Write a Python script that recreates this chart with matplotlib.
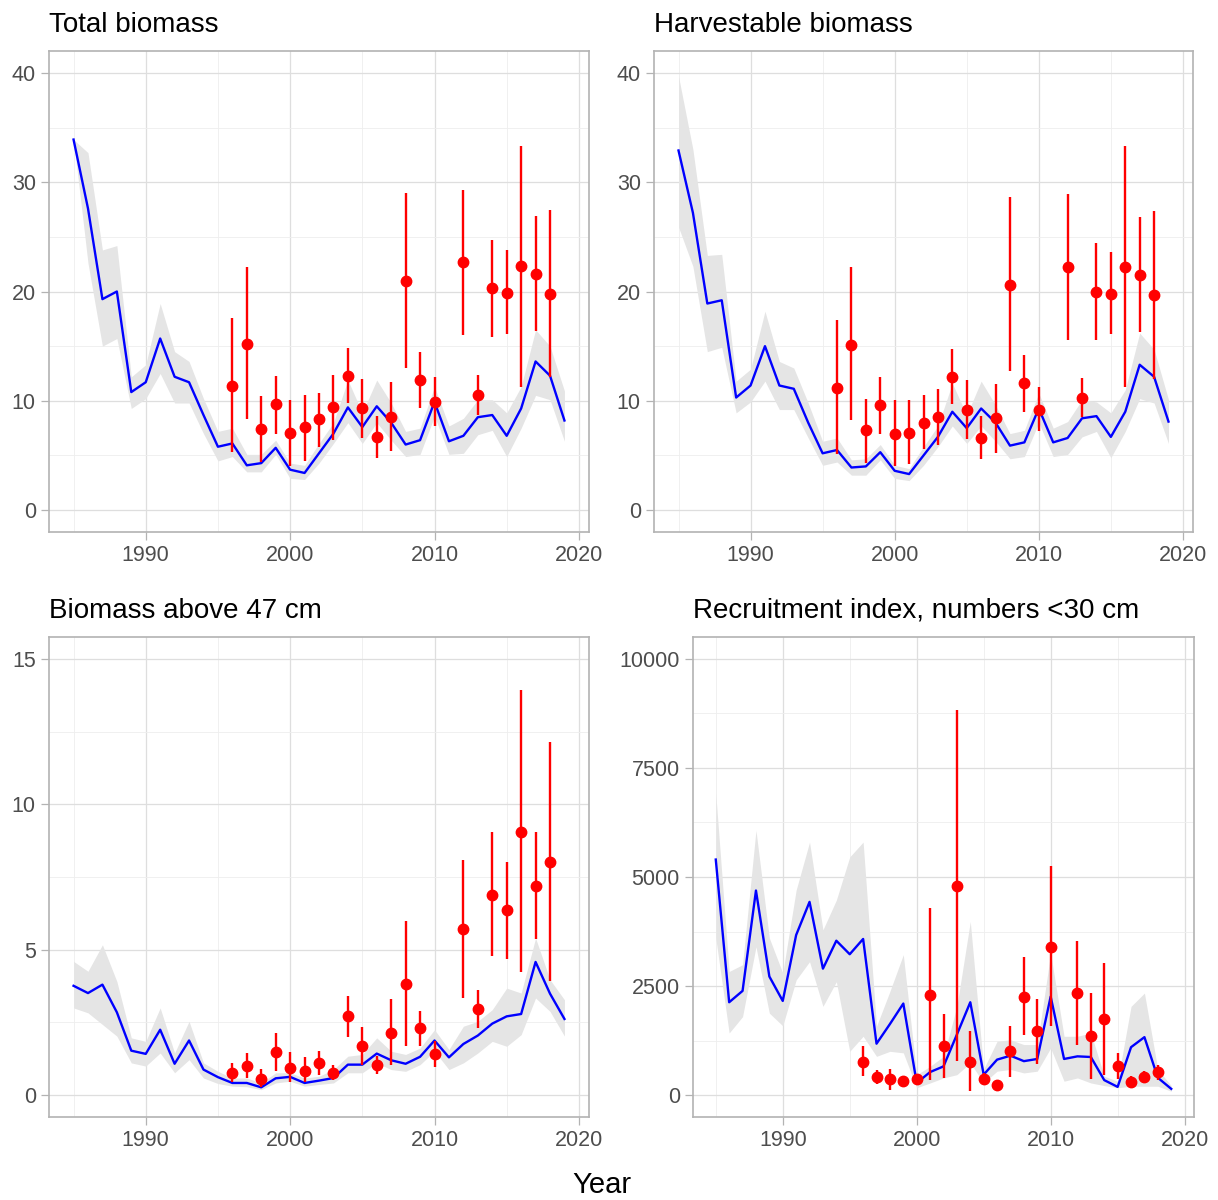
import numpy as np
import matplotlib.pyplot as plt
from matplotlib.ticker import MultipleLocator

plt.rcParams['font.family'] = ['Liberation Sans', 'DejaVu Sans']

# model years and survey years
years = list(range(1985, 2020))
svy_years = [1996, 1997, 1998, 1999, 2000, 2001, 2002, 2003, 2004, 2005, 2006,
             2007, 2008, 2009, 2010, 2012, 2013, 2014, 2015, 2016, 2017, 2018]

# --- Total biomass
tot_est = [33.9, 27.6, 19.3, 20.0, 10.8, 11.7, 15.7, 12.2, 11.7, 8.7, 5.8, 6.1, 4.1, 4.3,
           5.7, 3.7, 3.4, 5.2, 7.0, 9.4, 7.6, 9.5, 8.0, 6.0, 6.4, 9.9, 6.3, 6.8, 8.5, 8.7,
           6.8, 9.3, 13.6, 12.3, 8.2]
tot_lo = [33.9, 22.6, 15.0, 15.7, 9.3, 10.2, 12.5, 9.8, 9.8, 7.0, 4.5, 4.9, 3.5, 3.5,
          5.1, 2.9, 2.8, 4.3, 6.1, 8.0, 6.1, 8.0, 6.4, 4.9, 5.1, 8.6, 5.1, 5.2, 6.9, 7.3,
          4.9, 7.5, 10.5, 10.1, 6.3]
tot_hi = [33.9, 32.7, 23.8, 24.2, 12.2, 13.3, 18.9, 14.5, 13.6, 10.2, 7.2, 7.5, 5.1, 5.1,
          6.4, 4.3, 4.1, 6.1, 8.0, 11.9, 8.9, 11.9, 9.8, 7.2, 7.5, 11.3, 7.7, 8.4, 10.1, 10.1,
          8.9, 11.3, 16.5, 15.0, 10.9]
tot_svy = [11.4, 15.2, 7.4, 9.7, 7.1, 7.6, 8.3, 9.4, 12.3, 9.3, 6.7, 8.5, 21.0, 11.9,
           9.9, 22.7, 10.5, 20.3, 19.9, 22.3, 21.6, 19.8]
tot_svy_lo = [5.3, 8.3, 4.4, 7.0, 4.0, 4.5, 5.8, 6.4, 9.8, 6.6, 4.8, 5.4, 13.0, 9.3,
              7.7, 16.0, 8.7, 15.8, 16.1, 11.3, 16.4, 12.2]
tot_svy_hi = [17.6, 22.2, 10.4, 12.3, 10.1, 10.5, 10.7, 12.4, 14.8, 12.0, 8.6, 11.7, 29.0, 14.5,
              12.2, 29.3, 12.4, 24.7, 23.8, 33.3, 26.9, 27.5]

# --- Harvestable biomass
hrv_est = [32.9, 27.2, 18.9, 19.2, 10.3, 11.4, 15.0, 11.4, 11.1, 8.0, 5.2, 5.5, 3.9, 4.0,
           5.3, 3.6, 3.3, 5.0, 6.7, 9.0, 7.5, 9.3, 8.0, 5.9, 6.2, 9.3, 6.2, 6.6, 8.4, 8.6,
           6.7, 9.0, 13.3, 12.2, 8.1]
hrv_lo = [25.9, 22.3, 14.5, 14.9, 8.9, 9.9, 11.8, 9.2, 9.2, 6.6, 4.1, 4.4, 3.2, 3.2,
          4.6, 2.9, 2.7, 4.1, 5.8, 7.7, 6.1, 7.7, 6.3, 4.7, 4.9, 8.0, 4.9, 5.1, 6.7, 7.2,
          4.8, 7.2, 10.2, 9.8, 6.1]
hrv_hi = [39.7, 33.0, 23.3, 23.4, 11.8, 12.9, 18.2, 13.6, 13.0, 9.8, 6.3, 6.6, 4.6, 4.7,
          6.0, 4.1, 3.8, 5.8, 7.7, 11.6, 8.7, 11.8, 9.6, 7.0, 7.3, 10.7, 7.5, 8.1, 10.1, 9.9,
          8.9, 11.0, 16.2, 14.7, 10.1]
hrv_svy = [11.2, 15.1, 7.3, 9.6, 7.0, 7.1, 8.0, 8.5, 12.2, 9.2, 6.6, 8.4, 20.6, 11.6,
           9.2, 22.2, 10.3, 20.0, 19.8, 22.2, 21.5, 19.7]
hrv_svy_lo = [5.1, 8.2, 4.3, 7.0, 4.0, 4.2, 5.6, 6.0, 9.7, 6.5, 4.7, 5.2, 12.7, 9.0,
              7.2, 15.6, 8.5, 15.6, 16.1, 11.3, 16.3, 12.0]
hrv_svy_hi = [17.4, 22.2, 10.2, 12.2, 10.1, 10.1, 10.5, 11.1, 14.7, 11.9, 8.6, 11.5, 28.6, 14.2,
              11.3, 28.9, 12.1, 24.4, 23.6, 33.3, 26.8, 27.4]

# --- Biomass above 47 cm
big_est = [3.76, 3.51, 3.80, 2.85, 1.53, 1.42, 2.25, 1.08, 1.88, 0.88, 0.62, 0.42, 0.42, 0.27,
           0.58, 0.63, 0.42, 0.50, 0.59, 1.05, 1.05, 1.43, 1.20, 1.08, 1.32, 1.88, 1.30, 1.76,
           2.05, 2.46, 2.71, 2.79, 4.58, 3.49, 2.62]
big_lo = [3.00, 2.83, 2.43, 2.03, 1.11, 1.00, 1.45, 0.77, 1.22, 0.59, 0.40, 0.31, 0.29, 0.19,
          0.42, 0.48, 0.31, 0.37, 0.42, 0.77, 0.77, 1.11, 0.88, 0.82, 1.05, 1.51, 0.88, 1.11,
          1.45, 1.85, 1.68, 2.08, 3.34, 2.88, 2.03]
big_hi = [4.60, 4.26, 5.17, 3.91, 1.97, 1.85, 3.00, 1.45, 2.54, 1.11, 0.82, 0.59, 0.59, 0.42,
          0.77, 0.77, 0.59, 0.65, 0.88, 1.34, 1.40, 1.97, 1.51, 1.40, 1.62, 2.25, 1.57, 2.37,
          2.54, 2.94, 3.68, 3.51, 5.40, 3.97, 3.28]
big_svy = [0.77, 1.02, 0.57, 1.48, 0.94, 0.82, 1.11, 0.77, 2.71, 1.68, 1.05, 2.14, 3.83, 2.30,
           1.40, 5.71, 2.96, 6.89, 6.37, 9.04, 7.20, 8.03]
big_svy_lo = [0.47, 0.59, 0.29, 0.82, 0.45, 0.47, 0.71, 0.51, 2.00, 1.05, 0.74, 1.05, 1.68, 1.70,
              0.96, 3.34, 2.31, 4.77, 4.69, 4.22, 5.37, 3.91]
big_svy_hi = [1.09, 1.45, 0.90, 2.14, 1.48, 1.32, 1.53, 1.05, 3.42, 2.35, 1.36, 3.31, 6.00, 2.91,
              1.85, 8.09, 3.63, 9.03, 8.03, 13.92, 9.06, 12.15]

# --- Recruitment index
rec_est = [5400, 2130, 2390, 4690, 2720, 2160, 3670, 4430, 2900, 3540, 3230, 3580, 1180, 1630,
           2100, 280, 530, 660, 1390, 2130, 470, 815, 905, 780, 830, 2260, 830, 890, 875, 345,
           190, 1100, 1330, 400, 145]
rec_lo = [3600, 1425, 1800, 3400, 1880, 1590, 2640, 3060, 2035, 2600, 1005, 1350, 890, 1005,
          970, 170, 280, 395, 470, 740, 280, 550, 590, 510, 550, 1080, 320, 395, 280, 220,
          170, 205, 205, 205, 90]
rec_hi = [6910, 2835, 2990, 6070, 3600, 2800, 4700, 5800, 3790, 4470, 5460, 5800, 1580, 2380,
          3220, 470, 660, 890, 2035, 3980, 600, 1235, 1270, 1160, 1160, 3250, 1350, 1350, 1425, 435,
          320, 2035, 2340, 590, 220]
rec_svy = [760, 420, 360, 320, 360, 2300, 1130, 4790, 760, 380, 230, 1005, 2260, 1460,
           3400, 2350, 1350, 1745, 660, 305, 410, 525]
rec_svy_lo = [435, 245, 115, 290, 250, 345, 395, 775, 85, 245, 210, 420, 1385, 725,
              1575, 1160, 360, 470, 360, 190, 280, 345]
rec_svy_hi = [1120, 585, 600, 350, 470, 4280, 1865, 8830, 1480, 510, 250, 1590, 3160, 2200,
              5250, 3540, 2340, 3025, 970, 450, 550, 700]

titles = ["Total biomass", "Harvestable biomass", "Biomass above 47 cm",
          "Recruitment index, numbers <30 cm"]

W, H = 1218, 1200
fig = plt.figure(figsize=(W / 100, H / 100), dpi=100)

# panel boxes in pixels: left, right, top, bottom
boxes = [(49, 589, 51, 532), (654, 1193, 51, 532),
         (49, 589, 637, 1117), (693, 1194, 637, 1117)]

panels = [
    (tot_est, tot_lo, tot_hi, tot_svy, tot_svy_lo, tot_svy_hi, (0, 40), 10),
    (hrv_est, hrv_lo, hrv_hi, hrv_svy, hrv_svy_lo, hrv_svy_hi, (0, 40), 10),
    (big_est, big_lo, big_hi, big_svy, big_svy_lo, big_svy_hi, (0, 15), 5),
    (rec_est, rec_lo, rec_hi, rec_svy, rec_svy_lo, rec_svy_hi, (0, 10000), 2500),
]

for (l, r, t, b), title, (est, lo, hi, svy, slo, shi, (y0, y1), step) in zip(boxes, titles, panels):
    ax = fig.add_axes([l / W, 1 - b / H, (r - l) / W, (b - t) / H])
    ax.set_axisbelow(True)

    ax.fill_between(years, lo, hi, color="#E5E5E5", lw=0, zorder=1)
    ax.plot(years, est, color="#0000FF", lw=1.7, zorder=2)
    ax.vlines(svy_years, slo, shi, color="#FF0000", lw=1.7, zorder=3)
    ax.plot(svy_years, svy, "o", color="#FF0000", ms=7.5, zorder=4)

    ax.set_xlim(1983.3, 2020.7)
    pad = (y1 - y0) * 0.05
    ax.set_ylim(y0 - pad, y1 + pad)
    ax.xaxis.set_major_locator(MultipleLocator(10))
    ax.xaxis.set_minor_locator(MultipleLocator(5))
    ax.yaxis.set_major_locator(MultipleLocator(step))
    ax.yaxis.set_minor_locator(MultipleLocator(step / 2))

    ax.grid(which="major", color="#DEDEDE", lw=0.9)
    ax.grid(which="minor", color="#EEEEEE", lw=0.6)
    for s in ax.spines.values():
        s.set_color("#B3B3B3")
        s.set_linewidth(1.2)
    ax.tick_params(which="major", length=5.5, width=0.9, color="#B3B3B3",
                   labelcolor="#4D4D4D", labelsize=15.5, pad=4)
    ax.tick_params(which="minor", length=0)
    ax.set_title(title, loc="left", fontsize=20, pad=14, color="black")

fig.text(602 / W, 1 - 1193 / H, "Year", ha="center", va="baseline", fontsize=21)

fig.savefig("out.png", dpi=100)
